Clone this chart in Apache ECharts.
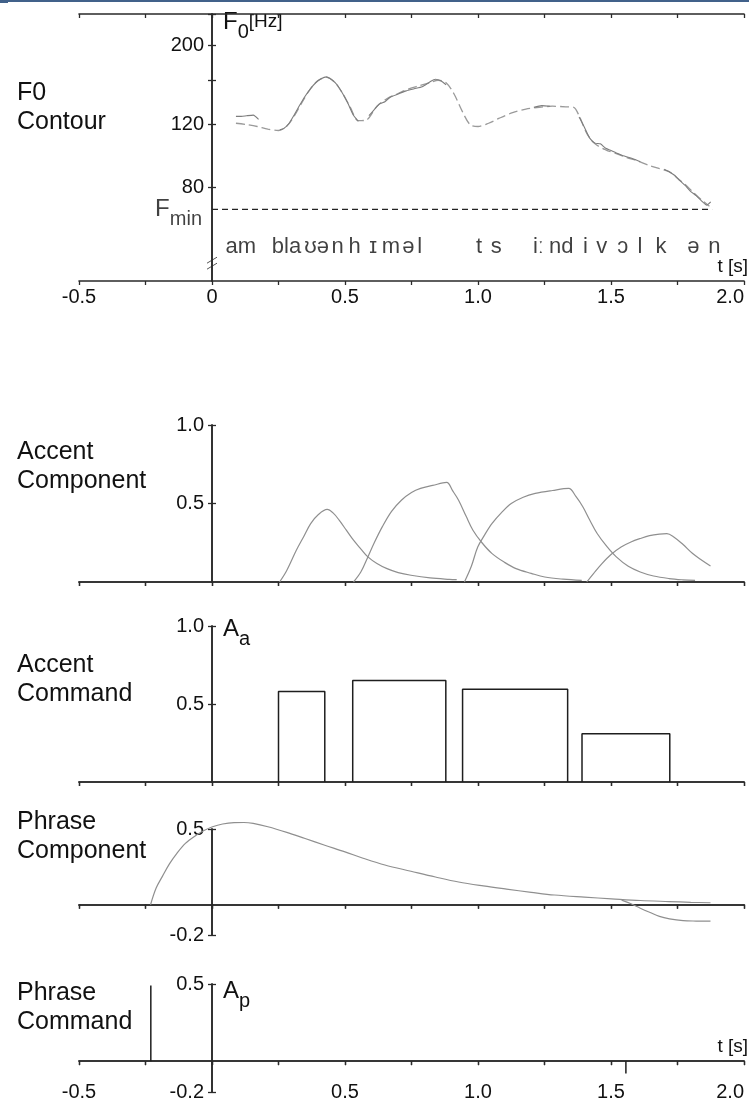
<!DOCTYPE html>
<html><head><meta charset="utf-8">
<script src="https://cdn.jsdelivr.net/npm/echarts@6/dist/echarts.min.js"></script>
<style>html,body{margin:0;padding:0;background:#fff;}#c{width:749px;height:1102px;}</style>
</head><body><div id="c"></div>
<script>
// ================= DATA =================
// x-axis (time, s)
const xTickValuesTop = [-0.5, 0, 0.5, 1.0, 1.5, 2.0];
const xTickLabelsTop = ['-0.5', '0', '0.5', '1.0', '1.5', '2.0'];
const xTickValuesBottom = [-0.5, 0.5, 1.0, 1.5, 2.0];
const xTickLabelsBottom = ['-0.5', '0.5', '1.0', '1.5', '2.0'];

// F0 panel (Hz, log scale)
const f0TickValues = [80, 120, 160, 200];
const f0LabelValues = [80, 120, 200];
const f0Min = 69.6;
const f0ModelT  = [0.09,0.13,0.17,0.21,0.25,0.28,0.31,0.34,0.37,0.40,0.43,0.46,0.49,0.52,0.55,0.58,0.62,0.66,0.70,0.74,0.78,0.82,0.85,0.88,0.91,0.94,0.97,1.00,1.04,1.08,1.13,1.18,1.23,1.28,1.33,1.36,1.38,1.41,1.44,1.48,1.52,1.56,1.60,1.64,1.68,1.72,1.75,1.78,1.81,1.84,1.87];
const f0ModelHz = [121,120,118.5,116.5,115.5,118.5,127,139,151,159.5,162.5,158,147,134,123,123.5,135,142,146.5,151,154,157,159.5,157,146,131,120,118.5,121,125,129.5,132.5,134,135,134.5,134,127,113,106,102,99.5,97,95,92.5,90.5,88.5,85,81.5,77.5,74,71];
const f0ObsT  = [0.09,0.11,0.13,0.155,0.175,null,0.255,0.27,0.29,0.31,0.33,0.35,0.37,0.39,0.41,0.43,0.45,0.47,0.49,0.51,0.53,0.55,null,0.59,0.61,0.63,0.65,0.67,0.70,0.73,0.76,0.79,0.82,0.84,0.86,0.88,null,1.21,1.24,1.27,null,1.38,1.40,1.42,1.44,1.46,1.48,1.50,1.52,1.55,1.58,1.61,null,1.70,1.72,1.74,1.76,1.78,1.80,1.82,1.84,1.86,1.875];
const f0ObsHz = [126.5,126.5,127,127.5,124,null,116,117,121,128,136,144,151,157,161,163,160,155,147,138,128,122.5,null,127,132,137,139,143,146,149,151,153,158,160.5,159,155,null,134,135.5,135,null,126,118,110,106.5,106,103,101.5,100,98,96.5,94.5,null,90,88.5,86.5,83.5,81,78,76,73.5,71.5,73];

// phonetic transcription (token, centre time)
const phonemes = ['am','bla','ʊ','ə','n','h','ɪ','m','ə','l','t','s','iː','nd','i','v','ɔ','l','k','ə','n'];
const phonemeT = [0.108,0.28,0.37,0.417,0.472,0.536,0.606,0.673,0.738,0.781,1.004,1.069,1.227,1.313,1.404,1.465,1.544,1.609,1.688,1.81,1.889];

// Accent components
const acc1T = [0.254,0.28,0.317,0.345,0.371,0.40,0.433,0.455,0.478,0.505,0.532,0.56,0.586,0.62,0.658,0.70,0.748,0.82,0.892,0.92];
const acc1V = [0,0.07,0.202,0.29,0.372,0.43,0.462,0.44,0.394,0.33,0.266,0.21,0.16,0.118,0.085,0.06,0.043,0.026,0.017,0.015];
const acc2T = [0.532,0.56,0.586,0.61,0.64,0.675,0.712,0.75,0.784,0.83,0.882,0.905,0.927,0.955,0.981,1.015,1.053,1.10,1.143,1.20,1.251,1.32,1.39];
const acc2V = [0,0.065,0.16,0.25,0.351,0.45,0.521,0.57,0.596,0.615,0.634,0.58,0.521,0.42,0.33,0.25,0.181,0.125,0.085,0.055,0.032,0.018,0.01];
const acc3T = [0.949,0.975,0.999,1.025,1.053,1.09,1.125,1.17,1.215,1.28,1.341,1.368,1.394,1.42,1.448,1.485,1.52,1.565,1.61,1.66,1.718,1.77,1.816];
const acc3V = [0,0.1,0.223,0.3,0.373,0.445,0.5,0.54,0.564,0.583,0.596,0.545,0.479,0.395,0.309,0.225,0.16,0.1,0.064,0.038,0.022,0.014,0.01];
const acc4T = [1.409,1.435,1.466,1.50,1.538,1.575,1.61,1.645,1.682,1.71,1.736,1.77,1.807,1.84,1.874];
const acc4V = [0,0.055,0.117,0.175,0.223,0.255,0.277,0.295,0.305,0.308,0.287,0.24,0.181,0.14,0.102];

// Accent commands
const accentOn  = [0.25, 0.529, 0.942, 1.391];
const accentOff = [0.424, 0.879, 1.337, 1.721];
const accentAmp = [0.58, 0.65, 0.595, 0.31];

// Phrase component
const phr1T = [-0.231,-0.21,-0.186,-0.16,-0.132,-0.10,-0.061,-0.03,0.002,0.04,0.083,0.12,0.155,0.21,0.281,0.35,0.424,0.50,0.568,0.65,0.748,0.84,0.927,1.02,1.107,1.2,1.287,1.40,1.502,1.61,1.718,1.80,1.874];
const phr1V = [0,0.11,0.189,0.27,0.339,0.405,0.457,0.49,0.515,0.533,0.542,0.543,0.537,0.515,0.478,0.437,0.393,0.349,0.307,0.262,0.221,0.183,0.15,0.124,0.103,0.082,0.064,0.05,0.039,0.028,0.021,0.016,0.013];
const phr2T = [1.54,1.575,1.61,1.645,1.682,1.72,1.771,1.82,1.874];
const phr2V = [0.03,0.006,-0.023,-0.05,-0.077,-0.093,-0.105,-0.108,-0.109];

// Phrase commands
const phraseCmdT = [-0.23, 1.556];
const phraseCmdAmp = [0.49, -0.08];

// y tick labels of the lower panels
const accYTicks = [0.5, 1.0];
const accYLabels = ['0.5', '1.0'];
const phrYTicks = [-0.2, 0.5];
const phrYLabels = ['-0.2', '0.5'];

// panel names
const panelNames = ['F0\nContour', 'Accent\nComponent', 'Accent\nCommand', 'Phrase\nComponent', 'Phrase\nCommand'];

// ================= STYLE / LAYOUT =================
const FONT = "'Liberation Sans',Arial,sans-serif";
const AX = '#2a2a2a';
const TXT = '#111';
const CURVE = '#8f8f8f';
const X_MIN = -0.5, X_MAX = 2.0;
const GRID_LEFT = 79, GRID_W = 665;
const gridTops = [14, 425, 626, 829, 984];
const gridHeights = [267, 157, 156, 106, 109];
const nameTops = [79, 438, 651, 808, 979];
const PHON_LEVEL_HZ = 54.5;
const Y_AXIS_OFFSET = -(0 - X_MIN) / (X_MAX - X_MIN) * GRID_W;   // y axes stand at t = 0

const pairs = (ts, vs) => ts.map((t, k) => (t == null ? ['-', '-'] : [t, vs[k]]));
const lookup = (vals, labs) => v => { for (let k = 0; k < vals.length; k++) if (Math.abs(v - vals[k]) < 1e-3 * Math.max(1, Math.abs(vals[k]))) return labs[k]; return ''; };

const grid = gridTops.map((t, i) => ({left: GRID_LEFT, width: GRID_W, top: t, height: gridHeights[i]}));

const xAxis = [], yAxis = [];
const mainX = [], mainY = [];
function baseX(i, extra) {
  return Object.assign({
    type: 'value', gridIndex: i, min: X_MIN, max: X_MAX, interval: 0.25,
    axisLine: {show: true, onZero: true, lineStyle: {color: AX, width: 1.6}},
    axisTick: {show: true, inside: false, length: 4, lineStyle: {color: AX, width: 1.3}},
    axisLabel: {show: false}, splitLine: {show: false}
  }, extra);
}
const labelStyle = {fontFamily: FONT, fontSize: 20, color: TXT};
const tsName = {name: 't [s]', nameLocation: 'end', nameGap: 4,
  nameTextStyle: {fontFamily: FONT, fontSize: 19, color: TXT, align: 'right', verticalAlign: 'bottom', padding: [0, 0, 5, 0]}};

for (let i = 0; i < 5; i++) {
  let ex = {};
  if (i === 0) {
    ex = Object.assign({}, tsName, {axisLabel: Object.assign({show: true, customValues: xTickValuesTop,
      formatter: lookup(xTickValuesTop, xTickLabelsTop), margin: 6, alignMaxLabel: 'right'}, labelStyle)});
  }
  if (i === 4) ex = Object.assign({}, tsName);
  mainX[i] = xAxis.length; xAxis.push(baseX(i, ex));
  const inX = baseX(i, {});
  inX.axisTick = {show: true, inside: true, length: 4, lineStyle: {color: AX, width: 1.3}};
  xAxis.push(inX);
  if (i === 4) {
    xAxis.push(baseX(i, {position: 'bottom', axisLine: {show: false, onZero: false}, axisTick: {show: false},
      axisLabel: Object.assign({show: true, customValues: xTickValuesBottom, formatter: lookup(xTickValuesBottom, xTickLabelsBottom),
        margin: 0, verticalAlign: 'middle', alignMaxLabel: 'right'}, labelStyle)}));
  }
}

const yRich = {
  F: {fontFamily: FONT, fontSize: 24, color: TXT, lineHeight: 40, verticalAlign: 'middle'},
  s: {fontFamily: FONT, fontSize: 20, color: TXT, lineHeight: 18, verticalAlign: 'bottom'},
  sub: {fontFamily: FONT, fontSize: 20, color: TXT, lineHeight: 24, verticalAlign: 'bottom'},
  sup: {fontFamily: FONT, fontSize: 19, color: TXT, lineHeight: 40, verticalAlign: 'middle'}
};
function baseY(i, cfg) {
  const y = {
    type: cfg.type || 'value', gridIndex: i, min: cfg.min, max: cfg.max, position: 'left', offset: Y_AXIS_OFFSET,
    axisLine: {show: true, onZero: false, lineStyle: {color: AX, width: 1.6}},
    axisTick: {show: true, inside: false, length: 4, customValues: cfg.ticks, lineStyle: {color: AX, width: 1.3}},
    axisLabel: {show: true, customValues: cfg.labVals, formatter: cfg.fmt, margin: 8,
      fontFamily: FONT, fontSize: 20, color: TXT},
    splitLine: {show: false}
  };
  if (cfg.name) {
    y.name = cfg.name; y.nameLocation = 'end'; y.nameGap = cfg.nameGap;
    y.nameTextStyle = {align: 'left', verticalAlign: 'middle', padding: [0, 0, 0, 11], rich: yRich};
  }
  return y;
}
const yCfgs = [
  {type: 'log', min: 43.9, max: 244.2, ticks: f0TickValues.concat([244.2]), labVals: f0LabelValues,
   fmt: v => String(Math.round(v)), name: '{F|F}{sub|0}{sup|[Hz]}', nameGap: -8},
  {min: 0, max: 1, ticks: accYTicks, labVals: accYTicks, fmt: lookup(accYTicks, accYLabels)},
  {min: 0, max: 1, ticks: accYTicks, labVals: accYTicks, fmt: lookup(accYTicks, accYLabels), name: '{F|A}{sub|a}', nameGap: -3},
  {min: -0.2, max: 0.5, ticks: phrYTicks, labVals: phrYTicks, fmt: lookup(phrYTicks, phrYLabels)},
  {min: -0.2, max: 0.5, ticks: phrYTicks, labVals: phrYTicks, fmt: lookup(phrYTicks, phrYLabels), name: '{F|A}{sub|p}', nameGap: -7}
];
for (let i = 0; i < 5; i++) {
  mainY[i] = yAxis.length; yAxis.push(baseY(i, yCfgs[i]));
  const inY = baseY(i, Object.assign({}, yCfgs[i], {name: null}));
  inY.axisLabel = {show: false};
  inY.axisTick = {show: true, inside: true, length: 4, customValues: yCfgs[i].ticks, lineStyle: {color: AX, width: 1.3}};
  yAxis.push(inY);
}

function lineS(i, data, style) {
  return Object.assign({type: 'line', xAxisIndex: mainX[i], yAxisIndex: mainY[i], data: data, symbol: 'none',
    silent: true, connectNulls: false, lineStyle: {color: CURVE, width: 1.2}}, style || {});
}

const series = [];
// Panel 1
series.push(lineS(0, pairs(f0ModelT, f0ModelHz), {smooth: 0.3, lineStyle: {color: '#9a9a9a', width: 1.3, type: [9, 4]}}));
series.push(lineS(0, pairs(f0ObsT, f0ObsHz), {smooth: 0.2, lineStyle: {color: '#7d7d7d', width: 1.1}}));
series.push(lineS(0, [[0, f0Min], [1.88, f0Min]], {lineStyle: {color: '#222', width: 1.2, type: [6, 4]}}));
// F_min label, anchored at the F_min level on the axis
series.push({type: 'scatter', xAxisIndex: mainX[0], yAxisIndex: mainY[0], symbolSize: 0, silent: true,
  data: [{value: [0, f0Min], name: 'Fmin'}],
  label: {show: true, position: 'left', distance: 10, formatter: '{F|F}{s|min}', rich: yRich}});
series.push({type: 'scatter', xAxisIndex: mainX[0], yAxisIndex: mainY[0], symbolSize: 0, silent: true,
  data: phonemeT.map((t, k) => ({value: [t, PHON_LEVEL_HZ], name: phonemes[k]})),
  label: {show: true, position: 'inside', formatter: p => p.name, fontFamily: FONT, fontSize: 22, color: TXT}});
// Panel 2
[[acc1T, acc1V], [acc2T, acc2V], [acc3T, acc3V], [acc4T, acc4V]].forEach(([t, v]) =>
  series.push(lineS(1, pairs(t, v), {smooth: 0.35})));
// Panel 3
accentOn.forEach((on, k) => {
  const off = accentOff[k], a = accentAmp[k];
  series.push(lineS(2, [[on, 0], [on, a], [off, a], [off, 0]], {lineStyle: {color: '#1e1e1e', width: 1.5}}));
});
// Panel 4
series.push(lineS(3, pairs(phr1T, phr1V), {smooth: 0.35, clip: false}));
series.push(lineS(3, pairs(phr2T, phr2V), {smooth: 0.35, clip: false}));
// Panel 5
phraseCmdT.forEach((t, k) => series.push(lineS(4, [[t, 0], [t, phraseCmdAmp[k]]], {lineStyle: {color: '#1e1e1e', width: 1.5}})));

const title = panelNames.map((n, i) => ({text: n, left: 17, top: nameTops[i], padding: 0,
  textStyle: {fontFamily: FONT, fontSize: 25, fontWeight: 'normal', color: TXT, lineHeight: 29}}));

const chart = echarts.init(document.getElementById('c'));
chart.setOption({animation: false, backgroundColor: '#fff', title, grid, xAxis, yAxis, series});

// decorations: header bar and axis break mark
const brk = chart.convertToPixel({xAxisIndex: mainX[0], yAxisIndex: mainY[0]}, [0, 48.6]);
chart.setOption({graphic: [
  {type: 'rect', shape: {x: 0, y: 0, width: 749, height: 2}, style: {fill: '#41618a'}},
  {type: 'rect', shape: {x: 0, y: 0, width: 8, height: 3}, style: {fill: '#41618a'}},
  {type: 'rect', shape: {x: brk[0] - 3, y: brk[1] - 4, width: 6, height: 6}, style: {fill: '#fff'}},
  {type: 'line', shape: {x1: brk[0] - 5, y1: brk[1] - 2, x2: brk[0] + 5, y2: brk[1] - 8}, style: {stroke: '#555', lineWidth: 1}},
  {type: 'line', shape: {x1: brk[0] - 5, y1: brk[1] + 4, x2: brk[0] + 5, y2: brk[1] - 2}, style: {stroke: '#555', lineWidth: 1}}
]});
</script></body></html>
